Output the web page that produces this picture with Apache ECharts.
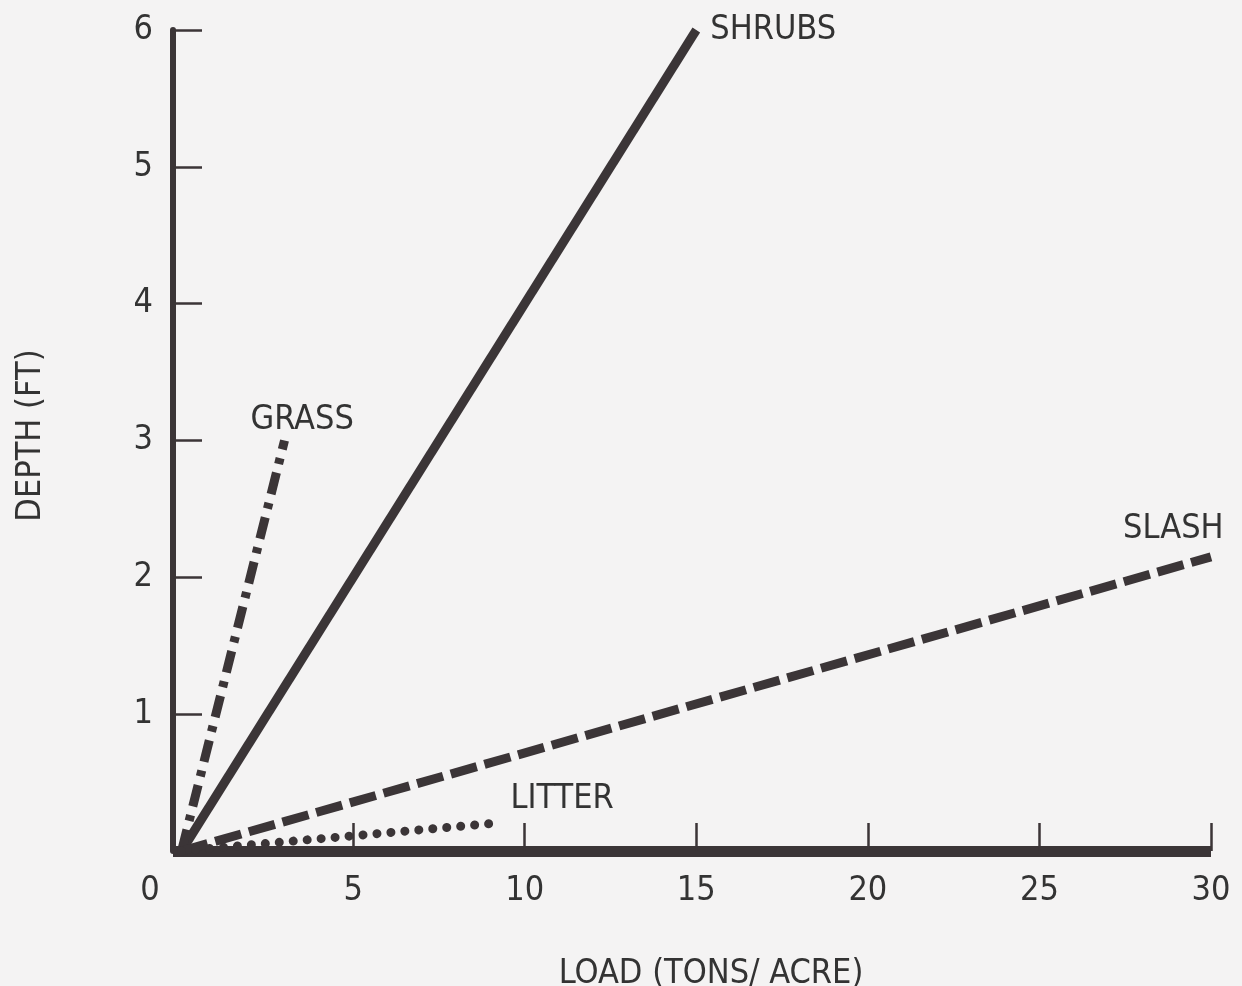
<!DOCTYPE html>
<html>
<head>
<meta charset="utf-8">
<script src="https://cdn.jsdelivr.net/npm/echarts@6/dist/echarts.min.js"></script>
<style>
html,body{margin:0;padding:0;background:#f4f3f3;}
#chart{width:1242px;height:986px;}
</style>
</head>
<body>
<div id="chart"></div>
<script>
// ---- data ----
const loadLabelValues = [0, 5, 10, 15, 20, 25, 30];
const loadTickValues = [5, 10, 15, 20, 25, 30];
const depthTicks = [0, 1, 2, 3, 4, 5, 6];
const seriesNames = ['SHRUBS', 'GRASS', 'SLASH', 'LITTER'];
const shrubs = [[0, 0], [15, 6]];
const grass = [[0, 0], [3, 3]];
const slash = [[0, 0], [30, 2.15]];
const litter = [[0, 0], [9, 0.2]];
const xTitle = 'LOAD (TONS/ ACRE)';
const yTitle = 'DEPTH (FT)';

const FONT = '"Liberation Sans Narrow", "DejaVu Sans Condensed", "Roboto Condensed", "Liberation Sans", sans-serif';
const INK = '#3b3537';
const TXT = '#333';
const FS = 34;

const chart = echarts.init(document.getElementById('chart'), null, {renderer: 'canvas'});

function lineSeries(name, data, lineStyle, endOffset) {
  return {
    name: name,
    type: 'line',
    data: data,
    symbol: 'none',
    clip: false,
    silent: true,
    lineStyle: Object.assign({color: INK}, lineStyle),
    endLabel: {
      show: true,
      formatter: name,
      fontFamily: FONT,
      fontSize: FS,
      color: TXT,
      offset: endOffset
    }
  };
}

chart.setOption({
  backgroundColor: '#f4f3f3',
  animation: false,
  textStyle: {fontFamily: FONT},
  grid: {left: 173, right: 31, top: 30, bottom: 135, containLabel: false, outerBoundsMode: 'none'},
  xAxis: {
    type: 'value',
    min: -0.25,
    max: 30,
    name: xTitle,
    nameLocation: 'middle',
    nameGap: 106,
    nameTextStyle: {fontFamily: FONT, fontSize: FS, color: TXT, padding: [0, 0, 0, 38]},
    axisLine: {show: true, onZero: false, lineStyle: {color: INK, width: 11, cap: 'butt'}},
    axisTick: {show: true, inside: true, length: 28, customValues: loadTickValues, lineStyle: {color: INK, width: 2.5}},
    axisLabel: {
      customValues: loadLabelValues,
      fontFamily: FONT, fontSize: FS, color: TXT, margin: 23,
      formatter: function (v) { return v === 0 ? '{z|0}' : String(v); },
      rich: {z: {fontFamily: FONT, fontSize: FS, color: TXT, padding: [0, 63, 0, 0]}}
    },
    splitLine: {show: false}
  },
  yAxis: {
    type: 'value',
    min: depthTicks[0],
    max: depthTicks[depthTicks.length - 1],
    interval: 1,
    name: yTitle,
    nameLocation: 'middle',
    nameRotate: 90,
    nameGap: 125,
    nameTextStyle: {fontFamily: FONT, fontSize: FS, color: TXT, padding: [0, 0, 0, 10]},
    axisLine: {show: true, onZero: false, lineStyle: {color: INK, width: 6}},
    axisTick: {show: true, inside: true, length: 29, lineStyle: {color: INK, width: 2.5}},
    axisLabel: {
      showMinLabel: false,
      fontFamily: FONT, fontSize: FS, color: TXT, margin: 20,
      formatter: function (v) { return v === 0 ? '' : String(v); }
    },
    splitLine: {show: false}
  },
  series: [
    lineSeries(seriesNames[0], shrubs, {width: 9, type: 'solid', cap: 'butt'}, [6, 0]),
    lineSeries(seriesNames[1], grass, {width: 9, type: [22, 9, 6, 9], cap: 'butt'}, [-42, -20]),
    lineSeries(seriesNames[2], slash, {width: 9, type: [27, 8], cap: 'butt'}, [-96, -28]),
    lineSeries(seriesNames[3], litter, {width: 9, type: [0.01, 14], cap: 'round'}, [12, -24])
  ]
});
</script>
</body>
</html>
